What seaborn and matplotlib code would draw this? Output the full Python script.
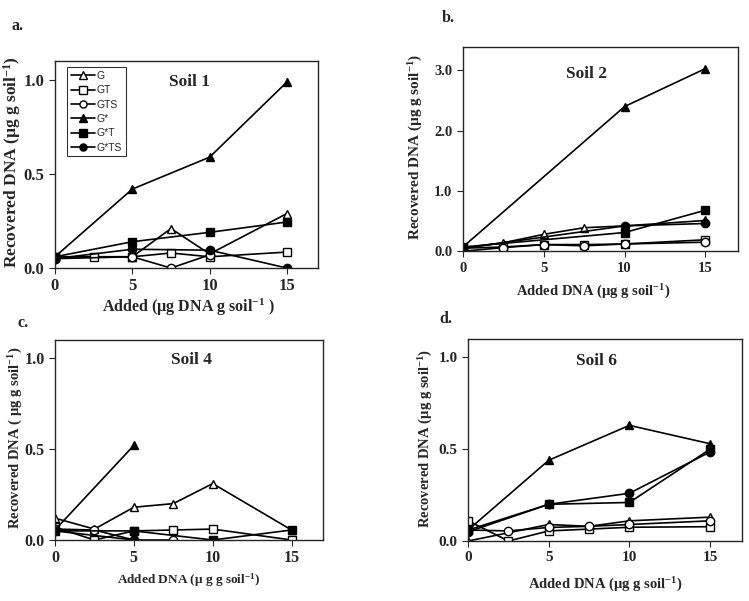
import numpy as np
import pandas as pd
import matplotlib
matplotlib.use("Agg")
from matplotlib import pyplot as plt
import seaborn as sns

sns.set_style("ticks")
plt.rcParams['font.family'] = ['Liberation Serif', 'DejaVu Serif']
plt.rcParams['font.weight'] = 'bold'
plt.rcParams['axes.linewidth'] = 1.0
plt.rcParams['mathtext.fontset'] = 'custom'
plt.rcParams['mathtext.rm'] = 'Liberation Serif:bold'
plt.rcParams['mathtext.bf'] = 'Liberation Serif:bold'
plt.rcParams['mathtext.it'] = 'Liberation Serif:bold'

nan = np.nan

# Data ~~~~~~~~~~~~~~~~~~~~~~~~~~~~~~~~~~~~~~~~~~~~~~~~~~~~~~~~~~~~~~~~~~
added = [0, 2.5, 5, 7.5, 10, 15]
series = ['G', 'GT', 'GTS', 'G*', 'G*T', 'G*TS']

soil1_G    = [0.06, nan, 0.06, 0.21, 0.075, 0.29]
soil1_GT   = [0.06, 0.06, 0.06, 0.08, 0.06, 0.085]
soil1_GTS  = [0.05, nan, 0.06, 0.0, 0.07, nan]
soil1_Gs   = [0.06, nan, 0.42, nan, 0.59, 0.99]
soil1_GsT  = [0.06, nan, 0.14, nan, 0.19, 0.245]
soil1_GsTS = [0.05, nan, 0.10, nan, 0.095, 0.0]

soil2_G    = [0.05, 0.14, 0.28, 0.39, 0.42, 0.51]
soil2_GT   = [0.05, 0.07, 0.11, 0.11, 0.12, 0.19]
soil2_GTS  = [0.0, 0.06, 0.11, 0.09, 0.12, 0.15]
soil2_Gs   = [0.07, nan, nan, nan, 2.40, 3.03]
soil2_GsT  = [0.07, nan, nan, nan, 0.31, 0.68]
soil2_GsTS = [0.05, nan, nan, nan, 0.42, 0.46]

soil4_G    = [0.12, 0.06, 0.18, 0.20, 0.31, 0.055]
soil4_GT   = [0.07, 0.0, 0.05, 0.055, 0.06, 0.0]
soil4_GTS  = [0.06, 0.055, 0.0, 0.0, nan, nan]
soil4_Gs   = [0.055, nan, 0.52, nan, nan, nan]
soil4_GsT  = [0.05, nan, 0.05, nan, 0.0, 0.055]
soil4_GsTS = [0.05, nan, 0.0, nan, nan, nan]

soil6_G    = [0.0, nan, 0.09, 0.08, 0.11, 0.13]
soil6_GT   = [0.11, 0.0, 0.055, 0.065, 0.075, 0.078]
soil6_GTS  = [0.06, 0.055, 0.074, 0.08, 0.09, 0.11]
soil6_Gs   = [0.06, nan, 0.44, nan, 0.63, 0.53]
soil6_GsT  = [0.06, nan, 0.20, nan, 0.21, 0.50]
soil6_GsTS = [0.05, nan, 0.20, nan, 0.26, 0.485]

soils = {
    'Soil 1': [soil1_G, soil1_GT, soil1_GTS, soil1_Gs, soil1_GsT, soil1_GsTS],
    'Soil 2': [soil2_G, soil2_GT, soil2_GTS, soil2_Gs, soil2_GsT, soil2_GsTS],
    'Soil 4': [soil4_G, soil4_GT, soil4_GTS, soil4_Gs, soil4_GsT, soil4_GsTS],
    'Soil 6': [soil6_G, soil6_GT, soil6_GTS, soil6_Gs, soil6_GsT, soil6_GsTS],
}

marker_of = {'G': '^', 'GT': 's', 'GTS': 'o', 'G*': '^', 'G*T': 's', 'G*TS': 'o'}
face_of = {'G': 'white', 'GT': 'white', 'GTS': 'white',
           'G*': 'black', 'G*T': 'black', 'G*TS': 'black'}

# Layout (left, bottom, width, height) and text per panel ~~~~~~~~~~~~~~~~
panels = [
    dict(soil='Soil 1', rect=[0.0734, 0.554, 0.351, 0.344], ylim=(0, 1.1),
         yticks=[0, 0.5, 1.0], letter='a.', lpos=(0.016, 0.950),
         tpos=(0.51, 0.90), ticksize=12, ylsize=12.5, xlsize=11.5,
         ylabel='Recovered DNA (µg g soil$^{-1}$)', ylpos=(0.016, 0.730),
         xlabel='Added (µg DNA g soil$^{-1}$ )', xlpos=(0.251, 0.489)),
    dict(soil='Soil 2', rect=[0.618, 0.582, 0.367, 0.339], ylim=(0, 3.38),
         yticks=[0, 1, 2, 3], letter='b.', lpos=(0.590, 0.963),
         tpos=(0.45, 0.87), ticksize=10.5, ylsize=11, xlsize=10.5,
         ylabel='Recovered DNA (µg g soil$^{-1}$)', ylpos=(0.555, 0.755),
         xlabel='Added DNA (µg g soil$^{-1}$)', xlpos=(0.792, 0.514)),
    dict(soil='Soil 4', rect=[0.0734, 0.1015, 0.358, 0.333], ylim=(0, 1.1),
         yticks=[0, 0.5, 1.0], letter='c.', lpos=(0.024, 0.456),
         tpos=(0.51, 0.90), ticksize=11.5, ylsize=10.5, xlsize=9.5,
         ylabel='Recovered DNA ( µg g soil$^{-1}$)', ylpos=(0.021, 0.271),
         xlabel='Added DNA (µ g g soil$^{-1}$)', xlpos=(0.252, 0.035)),
    dict(soil='Soil 6', rect=[0.625, 0.0998, 0.366, 0.336], ylim=(0, 1.1),
         yticks=[0, 0.5, 1.0], letter='d.', lpos=(0.587, 0.463),
         tpos=(0.47, 0.89), ticksize=11, ylsize=10.5, xlsize=10.5,
         ylabel='Recovered DNA (µg g soil$^{-1}$)', ylpos=(0.568, 0.270),
         xlabel='Added DNA (µg g soil$^{-1}$)', xlpos=(0.808, 0.027)),
]

fig = plt.figure(figsize=(7.49, 6.01), dpi=100)

for p in panels:
    ax = fig.add_axes(p['rect'])
    for name, vals in zip(series, soils[p['soil']]):
        df = pd.DataFrame({'x': added, 'y': vals}).dropna()
        sns.lineplot(data=df, x='x', y='y', ax=ax, color='black', lw=1.2,
                     marker=marker_of[name], markersize=6, mfc=face_of[name],
                     mec='black', mew=1.0, label=name, legend=False)
    ax.set_xlim(0, 17)
    ax.set_ylim(*p['ylim'])
    ax.set_xticks([0, 5, 10, 15])
    ax.set_yticks(p['yticks'])
    ax.set_yticklabels([f'{v:.1f}' for v in p['yticks']])
    ax.tick_params(labelsize=p['ticksize'], length=4, width=0.8, direction='out')
    for lab in ax.get_xticklabels() + ax.get_yticklabels():
        lab.set_fontweight('bold')
    ax.set_xlabel('')
    ax.set_ylabel('')
    ax.text(p['tpos'][0], p['tpos'][1], p['soil'], transform=ax.transAxes,
            ha='center', va='center', fontsize=12.5, fontweight='bold')
    fig.text(p['lpos'][0], p['lpos'][1], p['letter'], fontsize=11.5, fontweight='bold')
    fig.text(p['ylpos'][0], p['ylpos'][1], p['ylabel'], rotation=90,
             ha='center', va='center', fontsize=p['ylsize'], fontweight='bold')
    fig.text(p['xlpos'][0], p['xlpos'][1], p['xlabel'], ha='center', va='center',
             fontsize=p['xlsize'], fontweight='bold')
    if p['soil'] == 'Soil 1':
        leg = ax.legend(loc='upper left', bbox_to_anchor=(0.046, 0.971),
                        borderaxespad=0,
                        prop={'family': 'Liberation Sans', 'size': 7.5, 'weight': 'normal'},
                        frameon=True, fancybox=False, edgecolor='black',
                        handlelength=2.3, handletextpad=0.2, labelspacing=0.42,
                        borderpad=0.35, markerscale=0.85)
        leg.get_frame().set_linewidth(0.8)

fig.savefig('out.png', dpi=100)
